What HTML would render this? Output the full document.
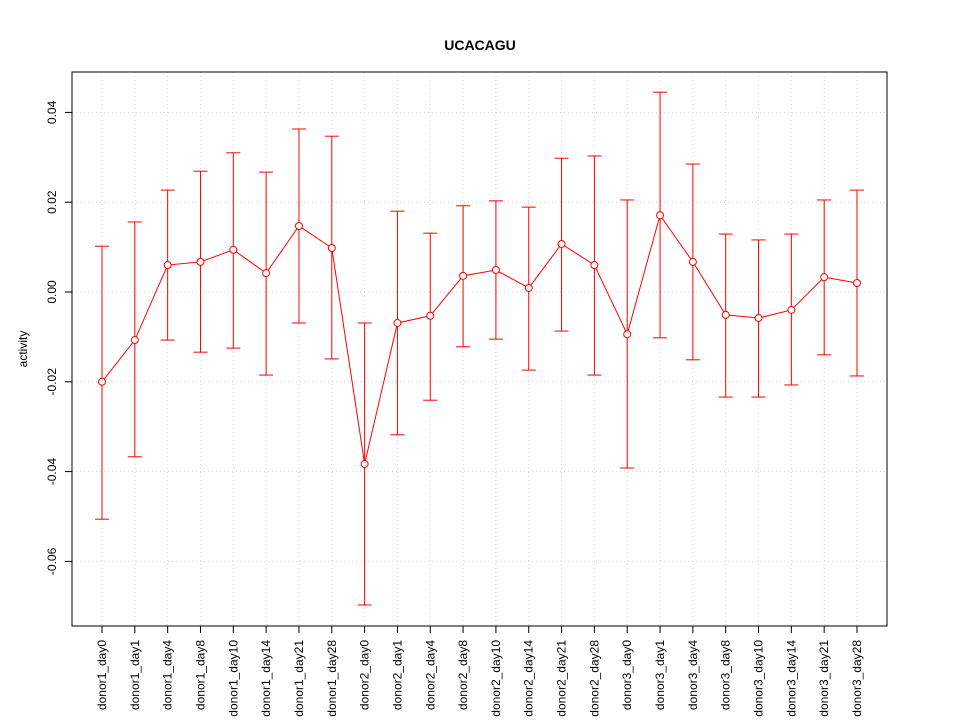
<!DOCTYPE html>
<html><head><meta charset="utf-8"><style>body{margin:0;background:#fff}</style></head>
<body>
<svg id="chart" width="960" height="720" xmlns="http://www.w3.org/2000/svg" font-family="Liberation Sans, sans-serif">
<rect width="960" height="720" fill="#fff"/>
<text x="480" y="50" text-anchor="middle" font-weight="bold" font-size="14">UCACAGU</text>
<text transform="translate(27,349) rotate(-90)" text-anchor="middle" font-size="12">activity</text>
<g id="grid"></g><g id="axes"></g><g id="marks"></g>
<rect x="72" y="72" width="815" height="554" fill="none" stroke="#000"/>
</svg>
<script>
const categories=["donor1_day0","donor1_day1","donor1_day4","donor1_day8","donor1_day10","donor1_day14","donor1_day21","donor1_day28","donor2_day0","donor2_day1","donor2_day4","donor2_day8","donor2_day10","donor2_day14","donor2_day21","donor2_day28","donor3_day0","donor3_day1","donor3_day4","donor3_day8","donor3_day10","donor3_day14","donor3_day21","donor3_day28"];
const means=[-0.0200,-0.0107,0.0060,0.0067,0.0094,0.0042,0.0147,0.0098,-0.0383,-0.0069,-0.0053,0.0036,0.0049,0.0009,0.0107,0.0060,-0.0094,0.0171,0.0067,-0.0051,-0.0058,-0.0040,0.0033,0.0020];
const uppers=[0.0102,0.0156,0.0227,0.0269,0.0310,0.0267,0.0363,0.0347,-0.0069,0.0180,0.0131,0.0192,0.0203,0.0189,0.0298,0.0303,0.0205,0.0445,0.0285,0.0129,0.0116,0.0129,0.0205,0.0227];
const lowers=[-0.0506,-0.0367,-0.0107,-0.0134,-0.0125,-0.0185,-0.0069,-0.0149,-0.0697,-0.0318,-0.0241,-0.0122,-0.0105,-0.0174,-0.0087,-0.0185,-0.0392,-0.0102,-0.0151,-0.0234,-0.0234,-0.0207,-0.0140,-0.0187];
const yTicks=[-0.06,-0.04,-0.02,0.00,0.02,0.04];
const yTickLabels=["-0.06","-0.04","-0.02","0.00","0.02","0.04"];
const NS="http://www.w3.org/2000/svg";
const x=i=>102+i*(857-102)/(categories.length-1);
const y=v=>292-v*4490;
function mk(tag,attrs,parent){const e=document.createElementNS(NS,tag);for(const k in attrs)e.setAttribute(k,attrs[k]);document.getElementById(parent).appendChild(e);return e;}
yTicks.forEach((t,i)=>{
  const g=mk('line',{x1:72,x2:887,y1:y(t),y2:y(t),stroke:'#d3d3d3','stroke-dasharray':'1,3'},'grid');
  
  
  const tk=mk('line',{x1:65,x2:72,y1:y(t),y2:y(t),stroke:'#000'},'axes');
  
  
  const lb=mk('text',{transform:`translate(56,${y(t)}) rotate(-90)`,'text-anchor':'middle','font-size':12},'axes');
  lb.textContent=yTickLabels[i];
  
  
});
categories.forEach((c,i)=>{
  const g=mk('line',{x1:x(i),x2:x(i),y1:72,y2:626,stroke:'#d3d3d3','stroke-dasharray':'1,3'},'grid');
  
  
  const tk=mk('line',{x1:x(i),x2:x(i),y1:626,y2:633,stroke:'#000'},'axes');
  
  
  const lb=mk('text',{transform:`translate(${x(i)+4},640) rotate(-90)`,'text-anchor':'end','font-size':12},'axes');
  lb.textContent=c;
  
  
});
means.forEach((m,i)=>{
  const v=mk('line',{x1:x(i),x2:x(i),y1:y(uppers[i]),y2:y(lowers[i]),stroke:'#f00'},'marks');
  
  
  [uppers[i],lowers[i]].forEach(val=>{
    const cap=mk('line',{x1:x(i)-7,x2:x(i)+7,y1:y(val),y2:y(val),stroke:'#f00'},'marks');
    
    
  });
});
const pl=mk('polyline',{points:means.map((m,i)=>x(i)+','+y(m)).join(' '),fill:'none',stroke:'#f00'},'marks');


means.forEach((m,i)=>{
  const p=mk('circle',{cx:x(i),cy:y(m),r:3.5,fill:'#fff',stroke:'#f00'},'marks');
  
  
});
</script>
</body></html>
